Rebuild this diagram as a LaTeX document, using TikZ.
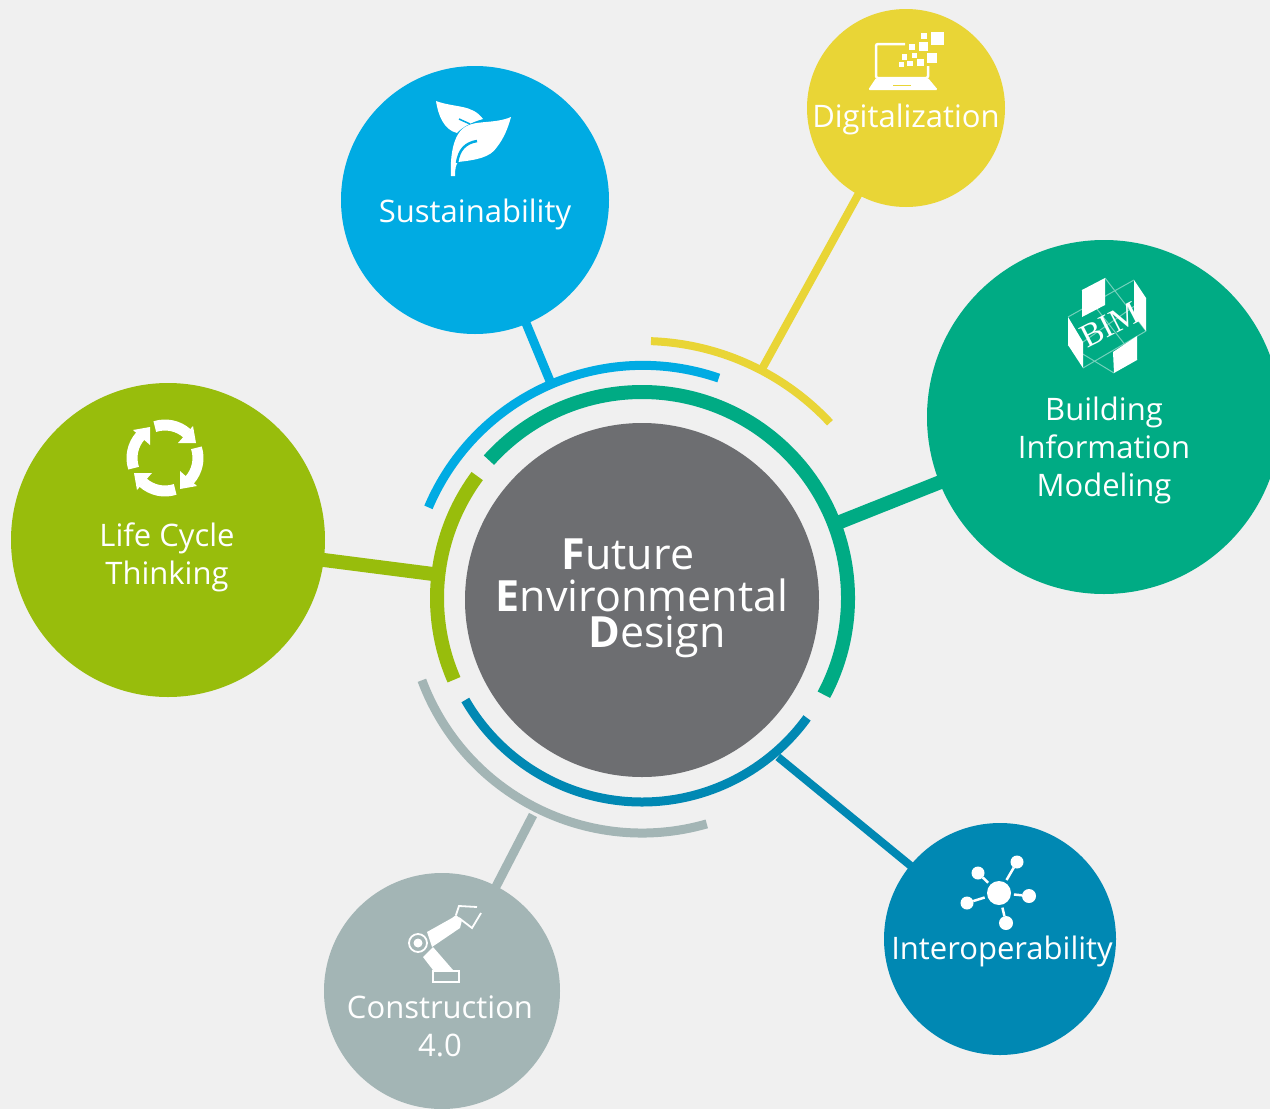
\documentclass[tikz,border=0pt]{standalone}
\usepackage{fontspec}
\setmainfont{Open Sans}
\newfontfamily\bimfont{Liberation Serif}
\usetikzlibrary{arrows.meta}
\definecolor{pagegray}{HTML}{F0F0F0}
\definecolor{coregray}{HTML}{6D6E71}
\definecolor{sustblue}{HTML}{00ABE3}
\definecolor{digiyellow}{HTML}{E9D536}
\definecolor{bimgreen}{HTML}{00AB84}
\definecolor{lifelime}{HTML}{98BD0C}
\definecolor{interblue}{HTML}{0088B3}
\definecolor{constrgray}{HTML}{A3B5B5}
\tikzset{
x=1pt, y=1pt, % one unit is one pixel of the picture
hub/.style={circle, inner sep=0pt, outer sep=0pt, minimum size=#1}, % the coloured discs
label/.style={text=white, font=\fontsize{31}{38}\selectfont, align=center, inner sep=0pt},
coretext/.style={text=white, font=\fontsize{43}{50}\selectfont, inner sep=0pt},
link/.style={line width=#1, shorten <=-2pt}, % disc to ring
ring/.style={line width=#1}, % arcs round the centre
icon/.style={fill=white, draw=none},
iconline/.style={draw=white, line width=#1, fill=none},
}

\begin{document}
\begin{tikzpicture}
        \fill[pagegray] (0,0) rectangle (1270,-1109);
        \clip (0,0) rectangle (1270,-1109);

        % discs
        \node[hub=354pt, fill=coregray] (core) at (642,-600) {};
        \node[hub=268pt, fill=sustblue] (sust) at (475,-200) {};
        \node[hub=198pt, fill=digiyellow] (digi) at (906,-108) {};
        \node[hub=354pt, fill=bimgreen] (bim) at (1104,-417) {};
        \node[hub=314pt, fill=lifelime] (life) at (168,-540) {};
        \node[hub=232pt, fill=interblue] (inter) at (1000,-939) {};
        \node[hub=236pt, fill=constrgray] (constr) at (442,-991) {};

        % arcs round the centre
        \coordinate (c) at (642,-598);
        \draw[ring=9pt, sustblue] (c) ++(157:232pt) arc[start angle=157, end angle=71, radius=233pt];
        \draw[ring=8pt, digiyellow] (c) ++(88:257pt) arc[start angle=88, end angle=43, radius=257pt];
        \draw[ring=14pt, bimgreen] (c) ++(138:206pt) arc[start angle=138, end angle=-28, radius=206pt];
        \draw[ring=14pt, lifelime] (c) ++(143.5:205pt) arc[start angle=143.5, end angle=203.5, radius=205pt];
        \draw[ring=9pt, interblue] (c) ++(210:204pt) arc[start angle=210, end angle=324, radius=204pt];
        \draw[ring=9pt, constrgray] (c) ++(200.5:235pt) arc[start angle=200.5, end angle=286, radius=235pt];

        % ends of the connectors, on the arcs
        \coordinate (sustend) at (550,-381);
        \coordinate (digiend) at (762,-369);
        \coordinate (bimend) at (840,-522);
        \coordinate (lifeend) at (433,-574);
        \coordinate (interend) at (778,-757);
        \coordinate (constrend) at (533,-815);

        \draw[link=9pt, sustblue] (sust) -- (sustend);
        \draw[link=8pt, digiyellow] (digi) -- (digiend);
        \draw[link=14pt, bimgreen] (bim) -- (bimend);
        \draw[link=14pt, lifelime] (life) -- (lifeend);
        \draw[link=8pt, interblue] (inter) -- (interend);
        \draw[link=9pt, constrgray] (constr) -- (constrend);

        % texts
        \node[coretext] (t1) at (628,-554) {\textbf{F}uture};
        \node[coretext] (t2) at (642,-595) {\textbf{E}nvironmental};
        \node[coretext] (t3) at (657,-637) {\textbf{D}esign};
        \node[label] (sustlabel) at (475,-214) {Sustainability};
        \node[label] (digilabel) at (906,-119) {Digitalization};
        \node[label] (bimlabel) at (1104,-450) {Building\\Information\\Modeling};
        \node[label] (lifelabel) at (167,-557) {Life Cycle\\Thinking};
        \node[label] (interlabel) at (1002,-951) {Interoperability};
        \node[label] (constrlabel) at (440,-1026) {Construction\\4.0};

        % leaf icon
        \fill[icon] (436,-101) .. controls (455,-108) and (472,-104) .. (483,-119)
                    .. controls (472,-122) and (462,-127) .. (457,-133)
                    .. controls (444,-130) and (438,-115) .. (436,-101) -- cycle;
        \fill[icon] (511,-117) .. controls (495,-124) and (475,-120) .. (465,-127)
                    .. controls (452,-135) and (450,-160) .. (451,-176) -- (455,-176)
                    .. controls (455,-168) and (456,-165) .. (458,-162)
                    .. controls (475,-160) and (490,-158) .. (497,-147)
                    .. controls (504,-138) and (508,-128) .. (511,-117) -- cycle;
        \draw[sustblue, line width=2.5pt] (477,-141) .. controls (465,-143) and (459,-150) .. (457,-163);
        \draw[sustblue, line width=1.5pt] (459,-119) -- (470,-124);

        % laptop icon
        \draw[iconline=2.5pt, rounded corners=2pt] (905,-44) -- (876,-44) -- (876,-78) -- (928,-78) -- (928,-66);
        \fill[icon, rounded corners=1.5pt] (876,-78) -- (928,-78) -- (938,-90) -- (868,-90) -- cycle;
        \fill[digiyellow] (893,-84.5) rectangle (911,-86);
        \foreach \xa/\ya/\xb/\yb in {931/32/944/45, 921/33/927/39, 919/42/928/51, 909/44/915/50, 927/53/937/63,
                                     912/53/917/58, 902/54/907/60, 917/59/924/66, 907/61/913/66, 899/62/904/67}
                \fill[icon] (\xa,-\ya) rectangle (\xb,-\yb);

        % bim icon
        \draw[white, opacity=.45, line width=1pt] (1068,-317) -- (1134,-280) (1083,-342) -- (1146,-298)
                (1083,-368) -- (1146,-331) (1105,-278) -- (1146,-331) (1082,-290) -- (1137,-360)
                (1068,-345) -- (1114,-373);
        \fill[icon] (1082,-290) -- (1105,-278) -- (1105,-305) -- (1082,-317) -- cycle;
        \fill[icon] (1134,-280) -- (1146,-298) -- (1146,-331) -- (1134,-315) -- cycle;
        \fill[icon] (1068,-317) -- (1083,-342) -- (1083,-368) -- (1068,-345) -- cycle;
        \fill[icon] (1113,-352) -- (1137,-336) -- (1137,-360) -- (1114,-373) -- cycle;
        \node[text=white, font=\bimfont\fontsize{33}{33}\selectfont, rotate=27, inner sep=0pt] (bimicon) at (1110,-325) {BIM};

        % cycle icon
        \foreach \r in {0,-90,-180,-270} {
                \begin{scope}[shift={(165,-458)}, rotate=\r]
                        \draw[white, line width=11pt] (108:33pt) arc[start angle=108, end angle=48, radius=33pt];
                        \fill[icon] (31,15) -- (13,15) -- (28,32) -- cycle;
                \end{scope}
        }

        % robot icon
        \draw[iconline=1.8pt] (418,-943) circle[radius=9pt];
        \fill[icon] (418,-943) circle[radius=4.5pt];
        \fill[icon] (427,-932) -- (452,-918) -- (456,-915) -- (462,-920) -- (460,-928) -- (432,-947) -- cycle;
        \fill[icon] (423,-957) -- (433,-947) -- (453,-970) -- (433,-970) -- cycle;
        \draw[iconline=1.8pt] (433,-971) rectangle (459,-982);
        \draw[iconline=1.8pt] (456,-915) -- (459,-906) -- (477,-907);
        \draw[iconline=1.8pt] (459,-918) -- (472,-928) -- (481,-913);

        % network icon
        \node[hub=24pt, fill=white, outer sep=3pt] (nethub) at (999,-893) {};
        \foreach \n/\x/\y/\d in {a/1017/862/13pt, b/978/873/13pt, e/967/903/13pt, f/1006/923/14pt, g/1029/896/14pt} {
                \node[hub=\d, fill=white] (net\n) at (\x,-\y) {};
                \draw[iconline=2.5pt] (nethub) -- (net\n);
        }
\end{tikzpicture}
\end{document}
